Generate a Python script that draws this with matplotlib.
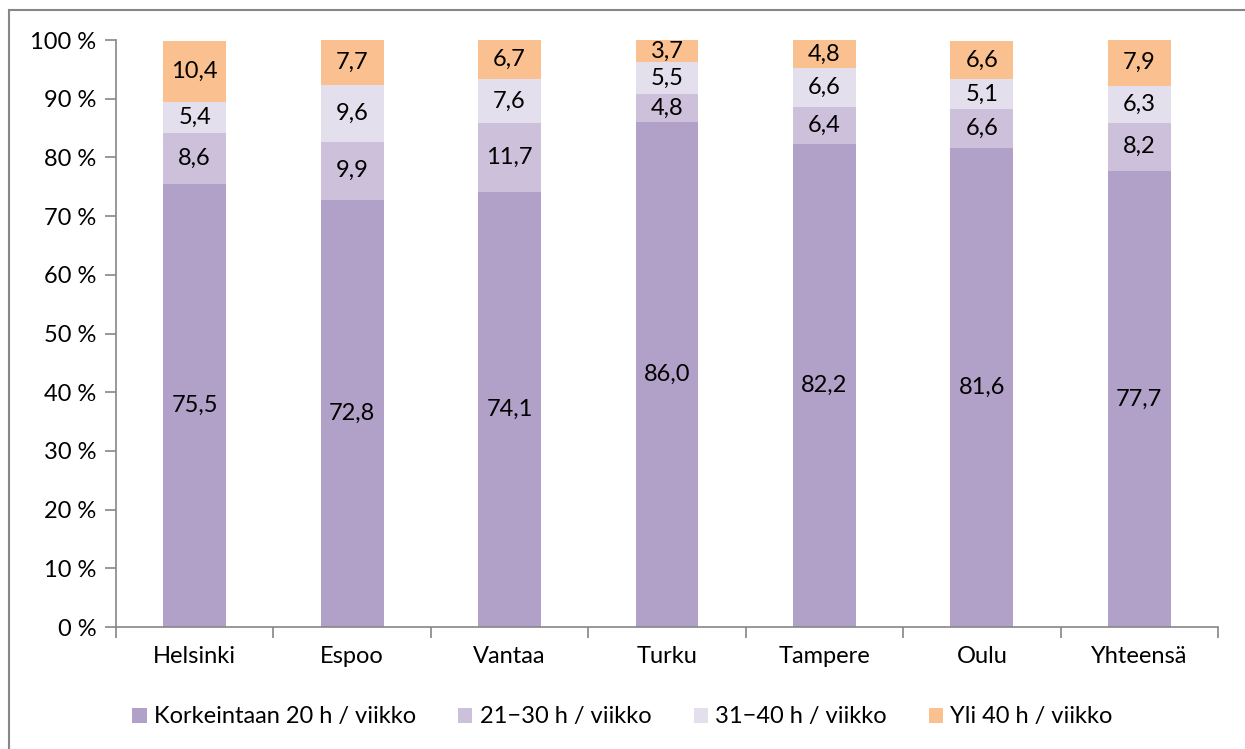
import matplotlib.pyplot as plt
import numpy as np

plt.rcParams['font.family'] = ['Lato', 'DejaVu Sans']

cities = ["Helsinki", "Espoo", "Vantaa", "Turku", "Tampere", "Oulu", "Yhteensä"]
upto20 = [75.5, 72.8, 74.1, 86.0, 82.2, 81.6, 77.7]
h21_30 = [8.6, 9.9, 11.7, 4.8, 6.4, 6.6, 8.2]
h31_40 = [5.4, 9.6, 7.6, 5.5, 6.6, 5.1, 6.3]
over40 = [10.4, 7.7, 6.7, 3.7, 4.8, 6.6, 7.9]

labels = ["Korkeintaan 20 h / viikko", "21\u221230 h / viikko",
          "31\u221240 h / viikko", "Yli 40 h / viikko"]
colors = ["#B1A0C7", "#CCC0DA", "#E4DFEC", "#FAC090"]
series = [upto20, h21_30, h31_40, over40]
fs = 17

fig = plt.figure(figsize=(12.45, 7.49), dpi=100)
ax = fig.add_axes([116/1245, 1-627/749, 1102/1245, 587/749])

x = np.arange(len(cities))
bottom = np.zeros(len(cities))
for vals, col, lab in zip(series, colors, labels):
    vals = np.array(vals)
    ax.bar(x, vals, 0.4, bottom=bottom, color=col, label=lab)
    for xi, b, v in zip(x, bottom, vals):
        ax.text(xi, b + v/2, f"{v:.1f}".replace(".", ","), ha="center",
                va="center", fontsize=fs, color="black")
    bottom += vals

ax.set_xlim(-0.5, len(cities) - 0.5)
ax.set_ylim(0, 100)
ax.set_yticks(range(0, 101, 10))
ax.set_yticklabels([f"{v} %" for v in range(0, 101, 10)], fontsize=fs)
ax.set_xticks(x)
ax.set_xticklabels(cities, fontsize=fs)
ax.tick_params(axis="x", length=0, pad=14)
ax.set_xticks(np.arange(-0.5, len(cities)), minor=True)
ax.tick_params(axis="x", which="minor", length=8, color="#868686", width=1.2)
ax.tick_params(axis="y", length=8, color="#868686", width=1.2, pad=6)
for s in ["top", "right"]:
    ax.spines[s].set_visible(False)
for s in ["left", "bottom"]:
    ax.spines[s].set_color("#868686")
    ax.spines[s].set_linewidth(1.2)

fig.legend(loc="center", bbox_to_anchor=(0.5, 1-717/749), ncol=4,
           frameon=False, fontsize=fs, handlelength=0.6, handleheight=0.6,
           handletextpad=0.3, columnspacing=1.8)

border = plt.Rectangle((9/1245, -0.01), 1.1, 1-10/749 + 0.01,
                       transform=fig.transFigure, fill=False,
                       edgecolor="#868686", linewidth=1.5)
fig.patches.append(border)

fig.savefig("out.png", dpi=100)
